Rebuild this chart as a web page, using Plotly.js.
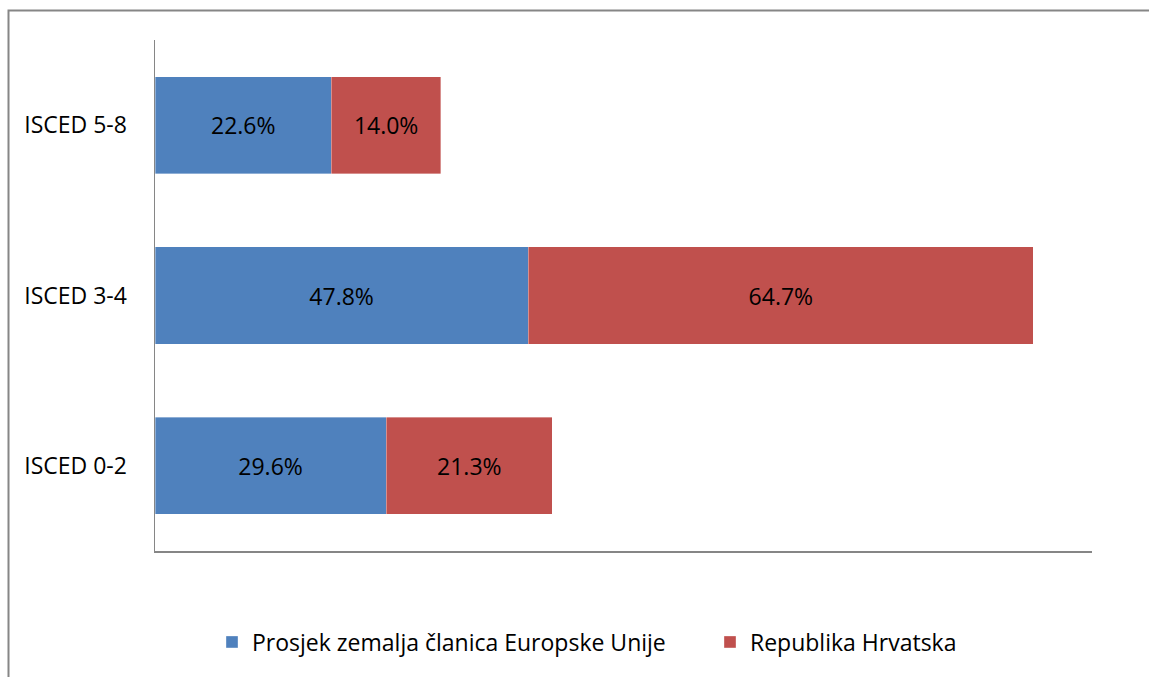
<!DOCTYPE html>
<html>
<head>
<meta charset="utf-8">
<script src="https://cdn.plot.ly/plotly-3.0.1.min.js"></script>
<style>html,body{margin:0;padding:0;background:#fff;}#chart{width:1149px;height:677px;}</style>
</head>
<body>
<div id="chart"></div>
<script>
const categories = ["ISCED 0-2", "ISCED 3-4", "ISCED 5-8"];
const euAverage = [29.6, 47.8, 22.6];
const croatia = [21.3, 64.7, 14.0];
const seriesNames = ["Prosjek zemalja članica Europske Unije", "Republika Hrvatska"];

const FONT = "'Open Sans', Lato, sans-serif";
const W = 1149, H = 677;
const L = 155, R = 57, T = 40, B = 126;
const pw = W - L - R, ph = H - T - B;

function mk(vals, name, color, legendId) {
  return {
    type: "bar", orientation: "h", name: name, legend: legendId,
    y: categories, x: vals,
    text: vals.map(v => v.toFixed(1) + "%"),
    textposition: "inside", insidetextanchor: "middle",
    textfont: {family: FONT, size: 23, color: "#000"},
    constraintext: "none",
    marker: {color: color, line: {color: "rgba(255,255,255,0.6)", width: 0.6}},
    hoverinfo: "skip"
  };
}

const data = [mk(euAverage, seriesNames[0], "#4F81BD", "legend"),
              mk(croatia, seriesNames[1], "#C0504D", "legend2")];

function legendAt(px) {
  return {orientation: "h", x: (px - L) / pw, xanchor: "left",
          y: (H - B - 642) / ph, yanchor: "middle",
          font: {family: FONT, size: 23, color: "#000"}, itemwidth: 30,
          bgcolor: "rgba(0,0,0,0)"};
}

const layout = {
  width: W, height: H,
  margin: {l: L, r: R, t: T, b: B, autoexpand: false},
  paper_bgcolor: "#fff", plot_bgcolor: "#fff",
  barmode: "stack", bargap: 0.43,
  font: {family: FONT, size: 23, color: "#000"},
  xaxis: {range: [0, 120], showgrid: false, zeroline: false, showticklabels: false, ticks: "",
          showline: true, linecolor: "#868686", linewidth: 1.5, fixedrange: true},
  yaxis: {type: "category", showgrid: false, zeroline: false, ticks: "", showline: true,
          linecolor: "#868686", linewidth: 1.5, ticklabelstandoff: 22,
          tickfont: {family: FONT, size: 23, color: "#000"}},
  showlegend: true,
  legend: legendAt(212),
  legend2: legendAt(710),
  shapes: [{type: "rect", xref: "paper", yref: "paper",
            x0: (8.5 - L) / pw, x1: 2, y0: -1, y1: (H - B - 10.5) / ph,
            line: {color: "#868686", width: 2}, fillcolor: "rgba(0,0,0,0)"}]
};

Plotly.newPlot("chart", data, layout, {displayModeBar: false, staticPlot: true});
</script>
</body>
</html>
